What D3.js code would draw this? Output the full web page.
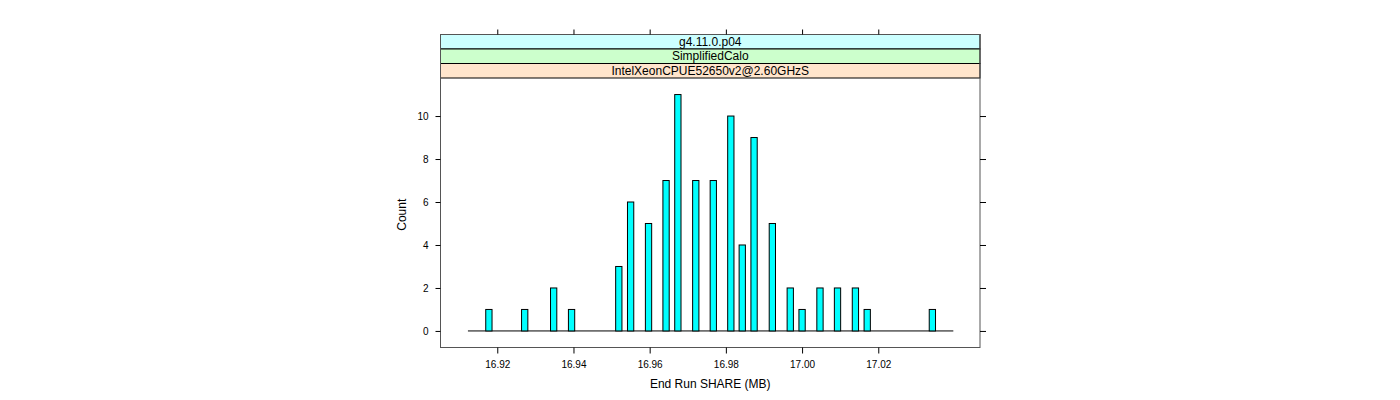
<!DOCTYPE html>
<html>
<head>
<meta charset="utf-8">
<script src="https://cdn.jsdelivr.net/npm/d3@7"></script>
<style>
  body { margin: 0; background: #fff; }
  text { font-family: "Liberation Sans", Arial, sans-serif; fill: #000; }
</style>
</head>
<body>
<svg class="chart" width="1400" height="400"></svg>
<script>
// histogram bin centres (MB) and counts
const binCenters = [16.9178, 16.9272, 16.9348, 16.9395, 16.9519, 16.9550, 16.9597, 16.9643,
    16.9674, 16.9721, 16.9767, 16.9813, 16.9843, 16.9874, 16.9922, 16.9969, 17.0000,
    17.0047, 17.0093, 17.0140, 17.0171, 17.0342];
const counts = [1, 1, 2, 1, 3, 6, 5, 7, 11, 7, 7, 10, 4, 9, 5, 2, 1, 2, 2, 2, 1, 1];
const binWidth = 0.00165;
const histRange = [16.9123, 17.0397];
const xTicks = [16.92, 16.94, 16.96, 16.98, 17.00, 17.02];
const yTicks = [0, 2, 4, 6, 8, 10];
const strips = ['g4.11.0.p04', 'SimplifiedCalo', 'IntelXeonCPUE52650v2@2.60GHzS'];
const stripColors = ['#ccffff', '#ccffcc', '#ffe5cc'];

const svg = d3.select('.chart');

const pLeft = 440.5, pRight = 980, pTop = 34.5, panelTop = 78, pBottom = 347.5;
const stripH = (panelTop - pTop) / strips.length;

const x = d3.scaleLinear().domain([16.9051, 17.0467]).range([pLeft, pRight]);
const y = d3.scaleLinear().domain([-0.77, 11.77]).range([pBottom, panelTop]);

// strips
svg.selectAll('rect.strip')
    .data(strips)
    .enter().append('rect')
    .attr('class', 'strip')
    .attr('x', pLeft)
    .attr('y', (d, i) => pTop + i * stripH)
    .attr('width', pRight - pLeft)
    .attr('height', stripH)
    .attr('fill', (d, i) => stripColors[i])
    .attr('stroke', '#000')
    .attr('stroke-width', 1);

svg.selectAll('text.strip')
    .data(strips)
    .enter().append('text')
    .attr('class', 'strip')
    .attr('x', (pLeft + pRight) / 2)
    .attr('y', (d, i) => pTop + i * stripH + stripH / 2 + 4)
    .attr('text-anchor', 'middle')
    .attr('font-size', 12)
    .text(d => d);

// baseline of the histogram
svg.append('line')
    .attr('x1', x(histRange[0])).attr('x2', x(histRange[1]))
    .attr('y1', y(0)).attr('y2', y(0))
    .attr('stroke', '#000');

// bars
svg.selectAll('rect.bar')
    .data(binCenters)
    .enter().append('rect')
    .attr('class', 'bar')
    .attr('x', d => x(d - binWidth / 2))
    .attr('width', d => x(d + binWidth / 2) - x(d - binWidth / 2))
    .attr('y', (d, i) => y(counts[i]))
    .attr('height', (d, i) => y(0) - y(counts[i]))
    .attr('fill', '#00ffff')
    .attr('stroke', '#000')
    .attr('stroke-width', 1);

// panel box
svg.append('rect')
    .attr('x', pLeft).attr('y', pTop)
    .attr('width', pRight - pLeft).attr('height', pBottom - pTop)
    .attr('fill', 'none')
    .attr('stroke', '#555');

// axes
const axisStyle = g => {
    g.select('.domain').remove();
    g.selectAll('.tick line').attr('stroke', '#000');
    g.selectAll('.tick text').attr('font-family', '"Liberation Sans", Arial, sans-serif')
        .attr('font-size', 10).attr('fill', '#000');
};

svg.append('g')
    .attr('transform', `translate(0,${pBottom})`)
    .call(d3.axisBottom(x).tickValues(xTicks).tickFormat(d3.format('.2f')).tickSize(6).tickPadding(7))
    .call(axisStyle);

svg.append('g')
    .attr('transform', `translate(0,${pTop})`)
    .call(d3.axisTop(x).tickValues(xTicks).tickFormat('').tickSize(5))
    .call(axisStyle);

svg.append('g')
    .attr('transform', `translate(${pLeft},0)`)
    .call(d3.axisLeft(y).tickValues(yTicks).tickFormat(d3.format('d')).tickSize(5).tickPadding(7))
    .call(axisStyle);

svg.append('g')
    .attr('transform', `translate(${pRight},0)`)
    .call(d3.axisRight(y).tickValues(yTicks).tickFormat('').tickSize(6))
    .call(axisStyle);

// axis titles
svg.append('text')
    .attr('x', (pLeft + pRight) / 2)
    .attr('y', 388)
    .attr('text-anchor', 'middle')
    .attr('font-size', 12)
    .text('End Run SHARE (MB)');

svg.append('text')
    .attr('transform', `translate(406,${(panelTop + pBottom) / 2 + 2}) rotate(-90)`)
    .attr('text-anchor', 'middle')
    .attr('font-size', 12)
    .text('Count');
</script>
</body>
</html>
